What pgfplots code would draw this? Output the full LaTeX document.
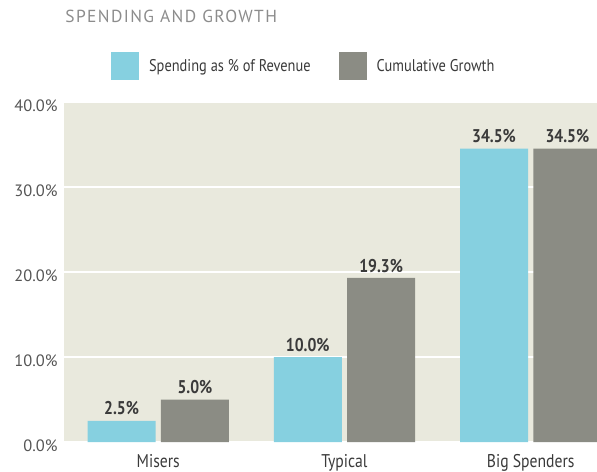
\documentclass[border=0pt]{standalone}
\usepackage{fontspec}
\setmainfont{PT Sans}
\newfontfamily\titlefont[LetterSpace=8]{PT Sans}
\newfontfamily\condfont[FakeStretch=0.85]{PT Sans}
\usepackage{pgfplots}
\pgfplotsset{compat=1.18}
\definecolor{barcyan}{HTML}{86D0E0}
\definecolor{bargray}{HTML}{8B8C84}
\definecolor{bgc}{HTML}{E9E9DD}
\definecolor{txt}{HTML}{3A3A3A}
\definecolor{tick}{HTML}{555555}
\definecolor{ttl}{HTML}{8C8C8C}
\begin{document}
\begin{tikzpicture}
\begin{axis}[
  scale only axis,
  width=533bp, height=340bp,
  at={(0,0)}, anchor=south west,
  ybar, bar width=0.365,
  xmin=-0.506, xmax=2.356,
  ymin=0, ymax=40,
  ytick={0,10,20,30,40},
  xtick={0,1,2},
  xticklabels={Misers,Typical,Big Spenders},
  axis line style={draw=none},
  major tick length=0pt,
  ymajorgrids,
  grid style={white, line width=1.3bp},
  axis background/.style={fill=bgc},
  /pgf/number format/assume math mode=true,
  yticklabel={\pgfmathprintnumber[fixed,fixed zerofill,precision=1]{\tick}\%},
  yticklabel style={font=\fontsize{16.5}{18}\selectfont, text=tick, yshift=-4bp, xshift=-3bp},
  xticklabel style={font=\condfont\fontsize{18.5}{20}\selectfont, text=txt, yshift=-9bp},
  nodes near coords={\pgfmathprintnumber[fixed,fixed zerofill,precision=1]{\pgfplotspointmeta}\%},
  every node near coord/.append style={font=\condfont\bfseries\fontsize{18.5}{20}\selectfont, text=txt, yshift=2bp},
  title={\titlefont SPENDING AND GROWTH},
  title style={at={(axis description cs:-0.004,1.217)}, anchor=base west, font=\fontsize{17.5}{19}\selectfont, text=ttl},
  legend columns=2,
  legend style={at={(axis description cs:0.088,1.106)}, anchor=west, draw=none, fill=none, inner sep=0pt,
    font=\condfont\fontsize{17}{19}\selectfont, text=txt,
    nodes={inner sep=0pt},
    /tikz/every odd column/.append style={column sep=10bp},
    /tikz/every even column/.append style={column sep=28bp}},
]
\addplot[fill=barcyan, draw=none, bar shift=-0.197,
  legend image code/.code={\fill[barcyan] (0bp,-14bp) rectangle (28bp,14bp);}]
  coordinates {(0,2.5) (1,10.0) (2,34.5)};
\addplot[fill=bargray, draw=none, bar shift=0.197,
  legend image code/.code={\fill[bargray] (0bp,-14bp) rectangle (28bp,14bp);}]
  coordinates {(0,5.0) (1,19.3) (2,34.5)};
\legend{Spending as \% of Revenue, Cumulative Growth}
\end{axis}
\pgfresetboundingbox
\path (-64bp,-30bp) rectangle (533bp,442bp);
\end{tikzpicture}
\end{document}
